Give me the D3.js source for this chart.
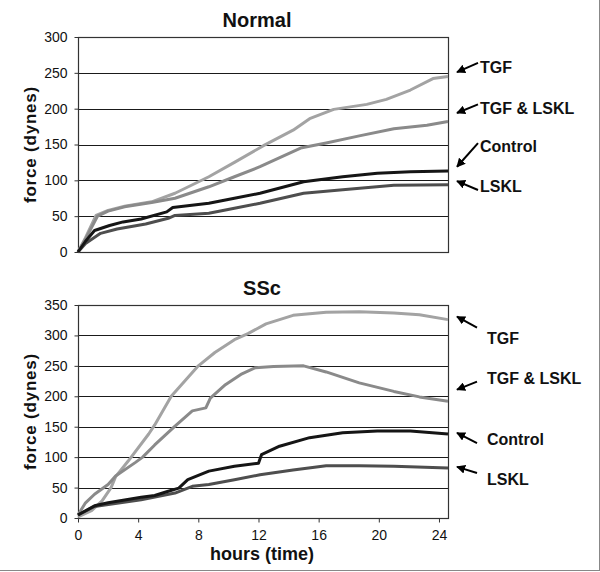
<!DOCTYPE html>
<html><head><meta charset="utf-8">
<script src="https://cdn.jsdelivr.net/npm/d3@7"></script>
<style>body{margin:0;background:#fff}svg{display:block}text{font-family:Arial,"Liberation Sans",sans-serif}</style>
</head><body>
<script>
// ---- data (hours, force in dynes) ----
const hourTicks = [0,4,8,12,16,20,24];
const normalTicks = [0,50,100,150,200,250,300];
const sscTicks = [0,50,100,150,200,250,300,350];

const normalTGF = [[0,0],[0.5,20],[1.2,51],[2,58],[3.1,64],[4.9,70],[6.45,82],[8.7,105],[10.4,125],[12.3,148],[14.3,170],[15.4,186],[17,199],[19.2,206],[20.5,213],[22.1,226],[23.6,242],[24.6,245]];
const normalTGFLSKL = [[0,0],[0.5,18],[1.3,50],[2,57],[3.1,63],[4.9,69],[6.45,75],[8.7,91],[10.4,105],[12.1,119],[14.8,145],[16.5,152],[18.7,162],[21,172],[23.2,177],[24.6,182]];
const normalControl = [[0,0],[0.5,15],[1.1,30],[2.1,37],[3,42],[4.2,46],[5.9,56],[6.3,62],[8.7,68],[10.4,75],[12.1,82],[15,98],[17.6,105],[19.9,110],[22.1,112],[24.6,113]];
const normalLSKL = [[0,0],[0.5,12],[1.5,26],[2.6,32],[4.5,39],[6,47],[6.45,51],[8.7,54],[10.4,61],[12.1,68],[15,82],[17.6,87],[21,93],[24.6,94]];

const sscTGF = [[0,2],[0.9,12],[1.6,28],[2.2,50],[2.5,68],[3.35,94],[4.7,138],[5.1,153],[6.2,200],[7.1,225],[8,250],[9.1,272],[10.4,293],[11.3,303],[12.5,319],[14.3,333],[16.5,338],[18.7,339],[21,337],[22.7,334],[24.6,326]];
const sscTGFLSKL = [[0,5],[0.5,25],[1.1,39],[2,55],[2.5,69],[3.8,91],[4.3,100],[5.1,120],[6.45,151],[7.6,176],[8.5,181],[8.8,197],[9.8,219],[10.9,237],[11.8,247],[13,249],[15,250],[16.5,240],[18.7,222],[21,208],[22.7,199],[24.6,192]];
const sscControl = [[0,5],[1.1,20],[2,25],[4.2,34],[5.1,37],[6,44],[6.7,49],[7.3,63],[8.7,77],[10.4,85],[12,90],[12.2,104],[13.4,118],[15.4,132],[17.6,140],[19.9,143],[22.1,143],[24.6,138]];
const sscLSKL = [[0,5],[1.1,19],[4.2,30],[6.45,41],[7.6,52],[8.7,55],[10.4,63],[12.1,71],[14.3,79],[16.5,86],[18.7,86],[21,85],[24.6,82]];

const seriesNames = ["TGF","TGF & LSKL","Control","LSKL"];
// annotation positions in data units: label value, arrow tail value, arrow tip value
const normalNotes = [[258,264,251],[201,206,194],[148,152,119],[92,86.5,99]];
const sscNotes = [[296,313,331],[230,224,211],[130,123,140],[63,74,84]];

const colors = {"TGF":"#a3a3a3","TGF & LSKL":"#8a8a8a","Control":"#151515","LSKL":"#4e4e4e"};

const W = 600, H = 572;
const svg = d3.select("body").append("svg").attr("width",W).attr("height",H);

svg.append("defs").append("marker").attr("id","ah")
  .attr("viewBox","0 0 10 10").attr("refX",9).attr("refY",5)
  .attr("markerWidth",9).attr("markerHeight",9).attr("markerUnits","userSpaceOnUse")
  .attr("orient","auto")
  .append("path").attr("d","M0,0 L10,5 L0,10 z").attr("fill","#000");

// outer frame (right and bottom)
svg.append("line").attr("x1",599.5).attr("x2",599.5).attr("y1",0).attr("y2",570.5).attr("stroke","#888");
svg.append("line").attr("x1",0).attr("x2",600).attr("y1",570.5).attr("y2",570.5).attr("stroke","#888");

const x = d3.scaleLinear().domain([0,24.6]).range([78,448]);

function panel(cfg){
  const y = d3.scaleLinear().domain([0,cfg.max]).range([cfg.bottom,cfg.top]);
  const g = svg.append("g");
  // gridlines
  g.selectAll(".grid").data(cfg.ticks.filter(t=>t>0)).enter().append("line")
    .attr("x1",x.range()[0]).attr("x2",x.range()[1])
    .attr("y1",d=>Math.round(y(d))+0.5).attr("y2",d=>Math.round(y(d))+0.5)
    .attr("stroke","#1a1a1a").attr("stroke-width",1);
  // plot border
  g.append("rect").attr("x",x.range()[0]+0.5).attr("y",Math.round(cfg.top)+0.5)
    .attr("width",x.range()[1]-x.range()[0]).attr("height",Math.round(cfg.bottom)-Math.round(cfg.top))
    .attr("fill","none").attr("stroke","#333").attr("stroke-width",1.2);
  // y axis
  const ya = g.append("g").attr("transform",`translate(${x.range()[0]+0.5},0)`)
    .call(d3.axisLeft(y).tickValues(cfg.ticks).tickSize(4).tickPadding(7));
  ya.select(".domain").remove();
  ya.selectAll("text").attr("font-size",14).attr("font-family","Arial, 'Liberation Sans', sans-serif").attr("fill","#111");
  ya.selectAll("line").attr("stroke","#333");
  if(cfg.xaxis){
    const xa = g.append("g").attr("transform",`translate(0,${Math.round(cfg.bottom)+0.5})`)
      .call(d3.axisBottom(x).tickValues(hourTicks).tickSize(4).tickPadding(8).tickFormat(d3.format("d")));
    xa.select(".domain").remove();
    xa.selectAll("text").attr("font-size",14).attr("font-family","Arial, 'Liberation Sans', sans-serif").attr("fill","#111");
    xa.selectAll("line").attr("stroke","#333");
  }
  // lines
  const line = d3.line().x(d=>x(d[0])).y(d=>y(d[1]));
  const order = [0,1,3,2];
  order.forEach(i=>{
    g.append("path").datum(cfg.data[i]).attr("d",line)
      .attr("fill","none").attr("stroke",colors[seriesNames[i]])
      .attr("stroke-width",3).attr("stroke-linejoin","round");
  });
  // title
  g.append("text").attr("x",cfg.titleX).attr("y",cfg.titleY).attr("text-anchor","middle")
    .attr("font-size",20).attr("font-weight","bold").attr("fill","#111").text(cfg.title);
  // y label
  const cy = (cfg.top+cfg.bottom)/2;
  g.append("text").attr("transform",`translate(36,${cy}) rotate(-90)`).attr("text-anchor","middle")
    .attr("font-size",17).attr("font-weight","bold").attr("letter-spacing",0.8).attr("fill","#111").text("force (dynes)");
  // annotations
  cfg.notes.forEach((n,i)=>{
    g.append("line").attr("x1",cfg.tailX).attr("y1",y(n[1])).attr("x2",457).attr("y2",y(n[2]))
      .attr("stroke","#000").attr("stroke-width",2).attr("marker-end","url(#ah)");
    g.append("text").attr("x",cfg.labelX).attr("y",y(n[0])).attr("dy","0.36em")
      .attr("font-size",16).attr("font-weight","bold").attr("fill","#111").text(seriesNames[i]);
  });
}

panel({max:300, top:37, bottom:252, ticks:normalTicks, data:[normalTGF,normalTGFLSKL,normalControl,normalLSKL],
  title:"Normal", titleX:257, titleY:27, notes:normalNotes, tailX:478, labelX:480, xaxis:false});
panel({max:350, top:305, bottom:518, ticks:sscTicks, data:[sscTGF,sscTGFLSKL,sscControl,sscLSKL],
  title:"SSc", titleX:262, titleY:295, notes:sscNotes, tailX:477, labelX:487, xaxis:true});

svg.append("text").attr("x",262).attr("y",560).attr("text-anchor","middle")
  .attr("font-size",18).attr("font-weight","bold").attr("fill","#111").text("hours (time)");
</script>
</body></html>
